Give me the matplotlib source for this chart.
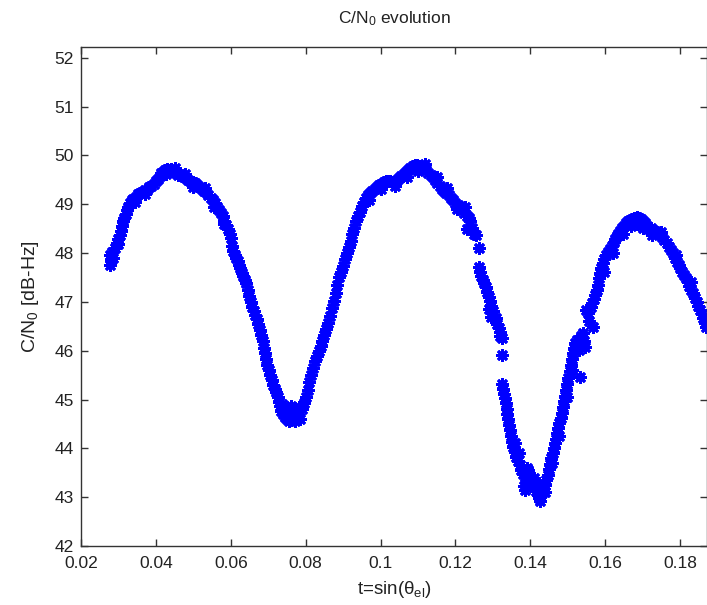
import matplotlib
matplotlib.use("Agg")
import matplotlib.pyplot as plt
import numpy as np

# C/N0 samples, (t, C/N0 in dB-Hz)
pts = [
    # first rise and first peak
    (0.0278, 47.75), (0.0280, 47.85), (0.0277, 47.95), (0.0282, 48.02), (0.0286, 47.90),
    (0.0291, 48.11), (0.0295, 48.20), (0.0300, 48.28), (0.0304, 48.36), (0.0307, 48.45),
    (0.0310, 48.55), (0.0312, 48.65), (0.0316, 48.72), (0.0320, 48.80), (0.0323, 48.88),
    (0.0326, 48.95), (0.0330, 49.02), (0.0335, 49.08), (0.0340, 49.10), (0.0346, 49.15),
    (0.0352, 49.20), (0.0358, 49.22), (0.0364, 49.25), (0.0370, 49.30), (0.0376, 49.30),
    (0.0382, 49.35), (0.0388, 49.38), (0.0394, 49.42), (0.0400, 49.48), (0.0405, 49.52),
    (0.0410, 49.58), (0.0415, 49.63), (0.0420, 49.66), (0.0425, 49.70), (0.0430, 49.72),
    (0.0435, 49.70), (0.0440, 49.72), (0.0445, 49.68), (0.0450, 49.66), (0.0455, 49.64),
    (0.0460, 49.60), (0.0465, 49.62), (0.0470, 49.58), (0.0475, 49.55), (0.0480, 49.54),
    (0.0486, 49.50), (0.0492, 49.48), (0.0498, 49.46), (0.0504, 49.44), (0.0510, 49.40),
    (0.0516, 49.35), (0.0522, 49.32), (0.0528, 49.28), (0.0534, 49.25), (0.0540, 49.18),
    (0.0546, 49.12), (0.0552, 49.08), (0.0558, 49.02), (0.0563, 48.94), (0.0568, 48.88),
    (0.0573, 48.82), (0.0578, 48.75), (0.0583, 48.66), (0.0588, 48.58), (0.0593, 48.50),
    (0.0598, 48.40), (0.0601, 48.30), (0.0604, 48.15), (0.0606, 48.05), (0.0610, 47.97),
    (0.0345, 49.05), (0.0372, 49.20), (0.0428, 49.62), (0.0452, 49.74), (0.0478, 49.62),
    (0.0500, 49.36), (0.0532, 49.34), (0.0556, 48.94), (0.0582, 48.60), (0.0300, 48.18),
    # first trough
    (0.0614, 47.90), (0.0618, 47.83), (0.0622, 47.76), (0.0625, 47.70), (0.0629, 47.60),
    (0.0633, 47.52), (0.0637, 47.45), (0.0642, 47.38), (0.0646, 47.25), (0.0650, 47.12),
    (0.0654, 47.00), (0.0658, 46.90), (0.0662, 46.82), (0.0666, 46.74), (0.0670, 46.65),
    (0.0674, 46.55), (0.0678, 46.43), (0.0682, 46.32), (0.0686, 46.20), (0.0690, 46.05),
    (0.0692, 45.95), (0.0695, 45.83), (0.0698, 45.70), (0.0701, 45.60), (0.0705, 45.50),
    (0.0709, 45.40), (0.0713, 45.30), (0.0717, 45.22), (0.0721, 45.15), (0.0725, 45.05),
    (0.0728, 44.95), (0.0731, 44.86), (0.0735, 44.76), (0.0740, 44.70), (0.0745, 44.64),
    (0.0750, 44.60), (0.0755, 44.56), (0.0760, 44.58), (0.0765, 44.66), (0.0770, 44.75),
    (0.0775, 44.72), (0.0780, 44.68), (0.0785, 44.60), (0.0790, 44.80), (0.0795, 44.92),
    (0.0800, 45.05), (0.0805, 45.20), (0.0810, 45.35), (0.0815, 45.50), (0.0820, 45.65),
    (0.0825, 45.78), (0.0830, 45.90), (0.0835, 46.00), (0.0840, 46.10), (0.0845, 46.20),
    (0.0850, 46.32), (0.0855, 46.45), (0.0860, 46.57), (0.0865, 46.72), (0.0870, 46.88),
    (0.0736, 44.90), (0.0748, 44.78), (0.0762, 44.86), (0.0772, 44.56), (0.0783, 44.85),
    # second rise and second peak
    (0.0875, 47.02), (0.0880, 47.18), (0.0885, 47.35), (0.0890, 47.50), (0.0895, 47.62),
    (0.0900, 47.74), (0.0905, 47.88), (0.0910, 48.00), (0.0915, 48.12), (0.0920, 48.25),
    (0.0925, 48.38), (0.0930, 48.52), (0.0935, 48.65), (0.0940, 48.75), (0.0945, 48.85),
    (0.0950, 48.96), (0.0955, 49.05), (0.0960, 49.12), (0.0966, 49.18), (0.0972, 49.24),
    (0.0978, 49.28), (0.0984, 49.32), (0.0990, 49.36), (0.0996, 49.40), (0.1002, 49.42),
    (0.1008, 49.45), (0.1014, 49.47), (0.1020, 49.48), (0.1026, 49.47), (0.1032, 49.46),
    (0.1038, 49.48), (0.1044, 49.50), (0.1050, 49.54), (0.1056, 49.58), (0.1062, 49.62),
    (0.1068, 49.66), (0.1074, 49.70), (0.1080, 49.74), (0.1086, 49.78), (0.1092, 49.80),
    (0.1098, 49.80), (0.1104, 49.78), (0.1110, 49.76), (0.1116, 49.74), (0.1122, 49.70),
    (0.1128, 49.64), (0.1134, 49.60), (0.1140, 49.55), (0.1146, 49.50), (0.1152, 49.44),
    (0.1158, 49.38), (0.1164, 49.32), (0.1170, 49.28), (0.1176, 49.24), (0.1182, 49.18),
    (0.1188, 49.12), (0.1194, 49.08), (0.1200, 49.02), (0.1206, 48.98), (0.1212, 48.94),
    (0.1218, 48.88), (0.1224, 48.82), (0.1230, 48.76), (0.1236, 48.72), (0.1240, 48.66),
    (0.1230, 48.50), (0.1244, 48.52), (0.1250, 48.40), (0.1256, 48.36), (0.1263, 48.11),
    (0.0968, 49.08), (0.1000, 49.32), (0.1040, 49.38), (0.1070, 49.56), (0.1100, 49.68),
    (0.1120, 49.82), (0.1150, 49.56), (0.1178, 49.34), (0.1204, 48.90), (0.1226, 48.94),
    # second trough
    (0.1263, 47.72), (0.1266, 47.62), (0.1269, 47.52), (0.1273, 47.45), (0.1277, 47.38),
    (0.1281, 47.30), (0.1285, 47.20), (0.1289, 47.10), (0.1292, 47.02), (0.1296, 46.92),
    (0.1300, 46.82), (0.1304, 46.74), (0.1290, 46.85), (0.1294, 46.70), (0.1308, 46.66),
    (0.1312, 46.55), (0.1316, 46.46), (0.1320, 46.38), (0.1324, 46.26), (0.1318, 46.30),
    (0.1324, 45.91), (0.1324, 45.32), (0.1326, 45.22), (0.1329, 45.12), (0.1332, 45.04),
    (0.1335, 44.92), (0.1337, 44.80), (0.1339, 44.70), (0.1341, 44.60), (0.1344, 44.48),
    (0.1346, 44.38), (0.1349, 44.25), (0.1352, 44.12), (0.1355, 44.02), (0.1359, 43.92),
    (0.1363, 43.82), (0.1367, 43.74), (0.1372, 43.65), (0.1376, 43.56), (0.1380, 43.48),
    (0.1385, 43.42), (0.1390, 43.60), (0.1395, 43.55), (0.1399, 43.35), (0.1404, 43.30),
    (0.1408, 43.24), (0.1412, 43.20), (0.1416, 43.12), (0.1420, 43.05), (0.1424, 42.98),
    (0.1427, 42.92), (0.1382, 43.22), (0.1385, 43.15), (0.1430, 43.08), (0.1434, 43.16),
    (0.1438, 43.24), (0.1442, 43.35), (0.1446, 43.45), (0.1450, 43.58), (0.1453, 43.68),
    (0.1456, 43.80), (0.1460, 43.90), (0.1463, 44.00), (0.1466, 44.10), (0.1469, 44.20),
    (0.1472, 44.32), (0.1475, 44.42), (0.1478, 44.52), (0.1481, 44.62), (0.1484, 44.73),
    (0.1487, 44.85), (0.1490, 44.96), (0.1493, 45.08), (0.1496, 45.20), (0.1499, 45.32),
    (0.1502, 45.45), (0.1505, 45.58), (0.1508, 45.70), (0.1511, 45.82), (0.1514, 45.95),
    (0.1517, 46.05), (0.1520, 46.15), (0.1524, 46.22), (0.1527, 46.10), (0.1530, 46.02),
    (0.1532, 45.47), (0.1536, 46.30), (0.1540, 46.36), (0.1544, 46.20), (0.1546, 46.08),
    (0.1360, 44.10), (0.1370, 43.90), (0.1392, 43.40), (0.1410, 43.40), (0.1422, 43.30),
    (0.1440, 43.10), (0.1458, 43.70), (0.1476, 44.25), (0.1498, 45.05), (0.1512, 45.60),
    # third rise and third peak
    (0.1550, 46.84), (0.1554, 46.77), (0.1558, 46.60), (0.1562, 46.90), (0.1566, 46.98),
    (0.1567, 46.49), (0.1570, 47.05), (0.1574, 47.15), (0.1577, 47.25), (0.1580, 47.35),
    (0.1583, 47.48), (0.1586, 47.59), (0.1590, 47.70), (0.1594, 47.80), (0.1598, 47.88),
    (0.1603, 47.96), (0.1608, 48.03), (0.1613, 48.08), (0.1618, 48.15), (0.1623, 48.22),
    (0.1627, 48.28), (0.1631, 48.34), (0.1635, 48.40), (0.1640, 48.46), (0.1645, 48.52),
    (0.1650, 48.56), (0.1655, 48.62), (0.1660, 48.65), (0.1666, 48.68), (0.1672, 48.70),
    (0.1678, 48.72), (0.1684, 48.74), (0.1690, 48.72), (0.1695, 48.70), (0.1700, 48.66),
    (0.1706, 48.62), (0.1712, 48.55), (0.1716, 48.50), (0.1722, 48.52), (0.1728, 48.48),
    (0.1734, 48.45), (0.1740, 48.42), (0.1746, 48.38), (0.1752, 48.32), (0.1758, 48.26),
    (0.1764, 48.20), (0.1770, 48.12), (0.1776, 48.06), (0.1781, 48.00), (0.1786, 47.90),
    (0.1791, 47.82), (0.1796, 47.76), (0.1800, 47.70), (0.1805, 47.62), (0.1810, 47.55),
    (0.1815, 47.48), (0.1820, 47.40), (0.1825, 47.32), (0.1830, 47.25), (0.1834, 47.18),
    (0.1839, 47.08), (0.1844, 47.00), (0.1849, 46.92), (0.1853, 46.84), (0.1858, 46.75),
    (0.1862, 46.66), (0.1866, 46.57), (0.1870, 46.48),
    (0.1596, 47.62), (0.1620, 48.00), (0.1648, 48.40), (0.1670, 48.56), (0.1686, 48.60),
    (0.1702, 48.52), (0.1724, 48.36), (0.1750, 48.44), (0.1790, 47.96), (0.1830, 47.40),
]
t = np.array([p[0] for p in pts])
cn0 = np.array([p[1] for p in pts])

xticks = [0.02, 0.04, 0.06, 0.08, 0.1, 0.12, 0.14, 0.16, 0.18]
xticklabels = ["0.02", "0.04", "0.06", "0.08", "0.1", "0.12", "0.14", "0.16", "0.18"]
yticks = list(range(42, 53))

plt.rcParams['font.family'] = ['Liberation Sans', 'DejaVu Sans']
plt.rcParams['mathtext.fontset'] = 'custom'
plt.rcParams['mathtext.rm'] = 'Liberation Sans'
plt.rcParams['mathtext.it'] = 'Liberation Sans'

fig = plt.figure(figsize=(7.07, 6.05), dpi=100)
ax = fig.add_axes([81 / 707, 59 / 605, 626 / 707, 499 / 605])

ax.plot(t, cn0, linestyle='none', marker=(8, 2, 0), markersize=9,
        color='#0000ff', markeredgewidth=2.0)

ax.set_xlim(0.02, 0.1872)
ax.set_ylim(42, 52.22)
ax.set_xticks(xticks)
ax.set_xticklabels(xticklabels)
ax.set_yticks(yticks)
ax.tick_params(direction='in', top=True, right=True, length=5, width=1,
               labelsize=12.5, colors='#333333', labelcolor='#222222')
ax.tick_params(axis='x', pad=7)
ax.tick_params(axis='y', pad=5)
for s in ax.spines.values():
    s.set_color('#333333')
    s.set_linewidth(1.0)

ax.set_title('C/N$_0$ evolution', fontsize=12.5, color='#222222', pad=17)
ax.set_xlabel(r't=sin(θ$_{\mathrm{el}}$)', fontsize=13.5, color='#222222', labelpad=6)
ax.set_ylabel('C/N$_0$ [dB-Hz]', fontsize=14, color='#222222', labelpad=10)

fig.savefig('out.png', dpi=100)
